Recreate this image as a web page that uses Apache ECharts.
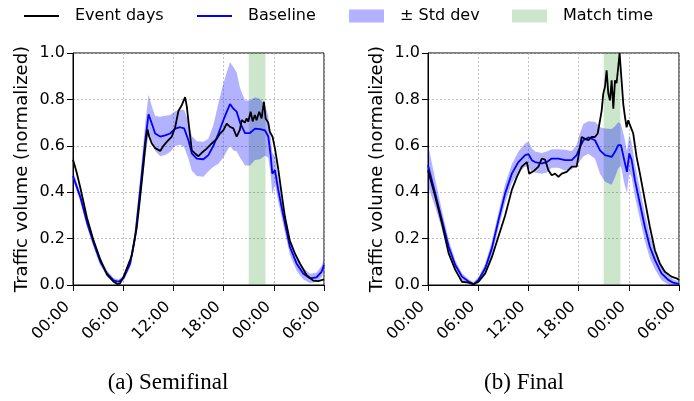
<!DOCTYPE html>
<html>
<head>
<meta charset="utf-8">
<script src="https://cdn.jsdelivr.net/npm/echarts@6/dist/echarts.min.js"></script>
<style>
  html, body { margin: 0; padding: 0; background: #fff; }
  #main { width: 694px; height: 401px; }
</style>
</head>
<body>
<div id="main"></div>
<script>
// 横轴刻度 (小时, 从第一天 00:00 开始)
var xTickLabels = ['00:00', '06:00', '12:00', '18:00', '00:00', '06:00'];
var matchSpan = [[21, 23]];

// (a) Semifinal - event days
var semiEventHours = [0, 0.4, 0.87, 1.67, 2.47, 3.26, 4.06, 4.85, 5.3, 5.6, 6.04, 6.84, 7.04, 7.63, 8.03, 8.43, 8.7, 8.91, 9.1, 9.42,
  9.82, 10.42, 10.81, 11.21, 11.81, 12.21, 12.6, 13.0, 13.4, 13.6, 13.92, 14.2, 14.59, 14.99, 15.39, 15.98, 16.58, 17.18, 17.57, 17.97,
  18.37, 18.76, 19.16, 19.56, 19.95, 20.15, 20.55, 20.75, 20.95, 21.23, 21.47, 21.74, 21.94, 22.26, 22.54, 22.82, 23.02, 23.33, 23.53, 23.85,
  24.13, 24.53, 24.93, 25.33, 25.92, 26.52, 27.12, 27.91, 28.71, 29.3, 30];
var semiEvent = [0.54, 0.49, 0.42, 0.29, 0.19, 0.11, 0.045, 0.014, 0.004, 0.006, 0.035, 0.11, 0.13, 0.25, 0.38, 0.52, 0.62, 0.67, 0.64, 0.61,
  0.59, 0.578, 0.60, 0.617, 0.64, 0.68, 0.75, 0.775, 0.81, 0.77, 0.667, 0.58, 0.567, 0.555, 0.57, 0.588, 0.61, 0.63, 0.653, 0.667,
  0.696, 0.682, 0.675, 0.639, 0.67, 0.711, 0.70, 0.718, 0.705, 0.747, 0.705, 0.733, 0.71, 0.747, 0.718, 0.79, 0.718, 0.70, 0.66, 0.639,
  0.59, 0.50, 0.395, 0.294, 0.19, 0.136, 0.093, 0.043, 0.019, 0.017, 0.024];

// (a) Semifinal - baseline and std dev
var semiBaseHours = [0, 0.87, 1.67, 2.47, 3.26, 4.06, 4.85, 5.45, 6.04, 6.84, 7.43, 8.03, 8.63, 9.03, 9.42, 9.82, 10.42, 11.01, 11.61, 12.21,
  12.8, 13.28, 13.8, 14.2, 14.79, 15.59, 16.18, 16.78, 17.38, 17.97, 18.37, 18.77, 19.17, 19.56, 19.96, 20.56, 21.15, 21.75, 22.35, 22.94,
  23.34, 23.62, 23.82, 24.13, 24.53, 25.13, 25.92, 26.72, 27.51, 28.31, 29.1, 29.7, 30];
var semiBase = [0.47, 0.38, 0.27, 0.18, 0.10, 0.05, 0.02, 0.014, 0.03, 0.093, 0.21, 0.41, 0.62, 0.736, 0.696, 0.653, 0.64, 0.645, 0.653, 0.674,
  0.68, 0.675, 0.624, 0.567, 0.545, 0.542, 0.56, 0.60, 0.653, 0.71, 0.746, 0.78, 0.76, 0.747, 0.70, 0.655, 0.655, 0.674, 0.672, 0.667,
  0.64, 0.56, 0.48, 0.495, 0.41, 0.30, 0.165, 0.093, 0.05, 0.029, 0.033, 0.057, 0.086];
var semiStd = [0.02, 0.02, 0.02, 0.018, 0.015, 0.012, 0.01, 0.01, 0.012, 0.018, 0.03, 0.05, 0.075, 0.085, 0.075, 0.075, 0.085, 0.085, 0.08, 0.075,
  0.075, 0.08, 0.08, 0.075, 0.075, 0.075, 0.07, 0.09, 0.13, 0.16, 0.17, 0.18, 0.18, 0.17, 0.15, 0.14, 0.14, 0.135, 0.13, 0.11,
  0.09, 0.08, 0.09, 0.06, 0.05, 0.04, 0.035, 0.03, 0.025, 0.02, 0.02, 0.025, 0.025];

// (b) Final - event days
var finalEventHours = [0, 0.87, 1.67, 2.47, 3.26, 4.06, 4.85, 5.45, 6.04, 6.84, 7.63, 8.43, 9.22, 10.02, 10.62, 11.21, 11.81, 12.09, 12.6, 13.2,
  13.6, 14.0, 14.39, 14.79, 15.19, 15.59, 15.98, 16.58, 17.18, 17.77, 18.17, 18.37, 18.77, 19.17, 19.56, 19.96, 20.28, 20.56, 20.76, 20.95,
  21.15, 21.35, 21.55, 21.75, 21.95, 22.15, 22.35, 22.54, 22.74, 22.9, 23.14, 23.34, 23.54, 23.74, 23.94, 24.13, 24.33, 24.53, 24.93, 25.33,
  25.92, 26.52, 27.12, 27.71, 28.31, 29.1, 29.7, 30];
var finalEvent = [0.495, 0.38, 0.265, 0.136, 0.065, 0.014, 0.01, 0.004, 0.014, 0.05, 0.12, 0.21, 0.30, 0.41, 0.466, 0.51, 0.53, 0.48, 0.49, 0.51,
  0.545, 0.54, 0.495, 0.473, 0.48, 0.466, 0.48, 0.488, 0.51, 0.51, 0.595, 0.638, 0.63, 0.624, 0.638, 0.638, 0.653, 0.71, 0.753, 0.825,
  0.854, 0.925, 0.825, 0.796, 0.882, 0.76, 0.882, 0.87, 0.94, 1.0, 0.88, 0.78, 0.725, 0.68, 0.71, 0.69, 0.685, 0.653, 0.552, 0.48,
  0.366, 0.25, 0.15, 0.093, 0.057, 0.036, 0.029, 0.022];

// (b) Final - baseline and std dev
var finalBaseHours = [0, 0.87, 1.67, 2.47, 3.26, 4.06, 4.85, 5.45, 6.04, 6.84, 7.63, 8.43, 9.22, 10.02, 10.81, 11.61, 12.01, 12.41, 12.8, 13.6,
  14.2, 14.79, 15.59, 16.38, 17.18, 17.77, 18.17, 18.57, 19.17, 19.96, 20.56, 21.15, 21.95, 22.35, 22.74, 23.06, 23.46, 23.78, 24.06, 24.33,
  24.73, 25.33, 25.92, 26.52, 27.12, 27.91, 28.71, 29.3, 30];
var finalBase = [0.516, 0.395, 0.28, 0.165, 0.086, 0.036, 0.015, 0.003, 0.022, 0.072, 0.158, 0.28, 0.395, 0.48, 0.53, 0.56, 0.564, 0.538, 0.53, 0.524,
  0.53, 0.545, 0.545, 0.538, 0.538, 0.56, 0.595, 0.624, 0.636, 0.624, 0.58, 0.56, 0.552, 0.574, 0.603, 0.603, 0.538, 0.488, 0.567, 0.54,
  0.452, 0.35, 0.25, 0.165, 0.108, 0.05, 0.022, 0.01, 0.004];
var finalStd = [0.09, 0.06, 0.04, 0.03, 0.02, 0.015, 0.01, 0.01, 0.012, 0.02, 0.03, 0.035, 0.04, 0.04, 0.045, 0.05, 0.055, 0.05, 0.045, 0.045,
  0.045, 0.04, 0.04, 0.045, 0.04, 0.045, 0.06, 0.07, 0.07, 0.08, 0.1, 0.115, 0.12, 0.11, 0.1, 0.09, 0.1, 0.09, 0.08, 0.075,
  0.07, 0.065, 0.06, 0.05, 0.04, 0.03, 0.02, 0.015, 0.01];

var captions = ['(a) Semifinal', '(b) Final'];

var FONT = 'DejaVu Sans';

function pairs(hours, vals) {
  var out = [];
  for (var i = 0; i < hours.length; i++) {
    out.push([hours[i], vals[i]]);
  }
  return out;
}

// 用多边形画 ±std 区域 (坐标全部经过 api.coord 转换)
function bandRender(hours, base, std) {
  return function (params, api) {
    var pts = [];
    for (var i = 0; i < hours.length; i++) {
      pts.push(api.coord([hours[i], base[i] + std[i]]));
    }
    for (var j = hours.length - 1; j >= 0; j--) {
      pts.push(api.coord([hours[j], base[j] - std[j]]));
    }
    return { type: 'polygon', shape: { points: pts }, style: { fill: 'rgba(0,0,255,0.3)' } };
  };
}

function spanRender(params, api) {
  var p0 = api.coord([api.value(0), 1]);
  var p1 = api.coord([api.value(1), 0]);
  return {
    type: 'rect',
    shape: { x: p0[0], y: p0[1], width: p1[0] - p0[0], height: p1[1] - p0[1] },
    style: { fill: 'rgba(0,128,0,0.2)' }
  };
}

function xAxisOf(idx) {
  return {
    gridIndex: idx, type: 'value', min: 0, max: 30, interval: 6,
    axisLine: { show: true, onZero: false, lineStyle: { color: '#000', width: 1 } },
    axisTick: { show: true, length: 6, lineStyle: { color: '#000' } },
    axisLabel: {
      rotate: 45, margin: 25, align: 'right', verticalAlign: 'bottom',
      fontSize: 16, color: '#000', fontFamily: FONT,
      formatter: function (v) { return xTickLabels[Math.round(v / 6)]; }
    },
    splitLine: { show: true, lineStyle: { type: [2, 2], color: '#b0b0b0', width: 0.8 } }
  };
}

function yAxisOf(idx) {
  return {
    gridIndex: idx, type: 'value', min: 0, max: 1, interval: 0.2,
    name: 'Traffic volume (normalized)', nameLocation: 'middle', nameGap: 42,
    nameTextStyle: { fontSize: 18, color: '#000', fontFamily: FONT },
    axisLine: { show: true, lineStyle: { color: '#000', width: 1 } },
    axisTick: { show: true, length: 6, lineStyle: { color: '#000' } },
    axisLabel: { margin: 8, fontSize: 16, color: '#000', fontFamily: FONT,
      formatter: function (v) { return v.toFixed(1); } },
    splitLine: { show: true, lineStyle: { type: [2, 2], color: '#b0b0b0', width: 0.8 } }
  };
}

function seriesOf(idx, evH, ev, bH, b, s) {
  return [
    { name: 'Match time', type: 'custom', xAxisIndex: idx, yAxisIndex: idx, renderItem: spanRender,
      data: matchSpan, itemStyle: { color: 'rgba(0,128,0,0.2)' }, z: 1, silent: true },
    { name: '± Std dev', type: 'custom', xAxisIndex: idx, yAxisIndex: idx, renderItem: bandRender(bH, b, s),
      data: [0], clip: true, itemStyle: { color: 'rgba(0,0,255,0.3)' }, z: 2, silent: true },
    { name: 'Baseline', type: 'line', xAxisIndex: idx, yAxisIndex: idx, data: pairs(bH, b),
      showSymbol: false, lineStyle: { color: '#0000ff', width: 1.8 }, itemStyle: { color: '#0000ff' }, z: 3 },
    { name: 'Event days', type: 'line', xAxisIndex: idx, yAxisIndex: idx, data: pairs(evH, ev),
      showSymbol: false, lineStyle: { color: '#000', width: 1.8 }, itemStyle: { color: '#000' }, z: 4 }
  ];
}

function legendOf(name, left, h, color) {
  return {
    left: left, top: 8, padding: 0, itemWidth: 35, itemHeight: h, icon: 'rect',
    textStyle: { fontSize: 16, color: '#000', fontFamily: FONT, padding: [0, 0, 0, 11] },
    data: [{ name: name, itemStyle: { color: color } }]
  };
}

var chart = echarts.init(document.getElementById('main'));
var option = {
  animation: false,
  backgroundColor: '#fff',
  legend: [
    legendOf('Event days', 24, 2, '#000'),
    legendOf('Baseline', 197, 2, '#0000ff'),
    legendOf('± Std dev', 349, 13, 'rgba(0,0,255,0.3)'),
    legendOf('Match time', 512, 13, 'rgba(0,128,0,0.2)')
  ],
  grid: [
    { left: 73, top: 53, width: 251, height: 232, show: true, borderColor: '#000', borderWidth: 1 },
    { left: 428, top: 53, width: 251, height: 232, show: true, borderColor: '#000', borderWidth: 1 }
  ],
  xAxis: [xAxisOf(0), xAxisOf(1)],
  yAxis: [yAxisOf(0), yAxisOf(1)],
  series: seriesOf(0, semiEventHours, semiEvent, semiBaseHours, semiBase, semiStd)
    .concat(seriesOf(1, finalEventHours, finalEvent, finalBaseHours, finalBase, finalStd)),
  graphic: [
    { type: 'text', x: 168, y: 383, style: { text: captions[0], fontSize: 23, fontFamily: 'Liberation Serif', fill: '#000', align: 'center', verticalAlign: 'middle' } },
    { type: 'text', x: 524, y: 383, style: { text: captions[1], fontSize: 23, fontFamily: 'Liberation Serif', fill: '#000', align: 'center', verticalAlign: 'middle' } }
  ]
};
chart.setOption(option);
</script>
</body>
</html>
